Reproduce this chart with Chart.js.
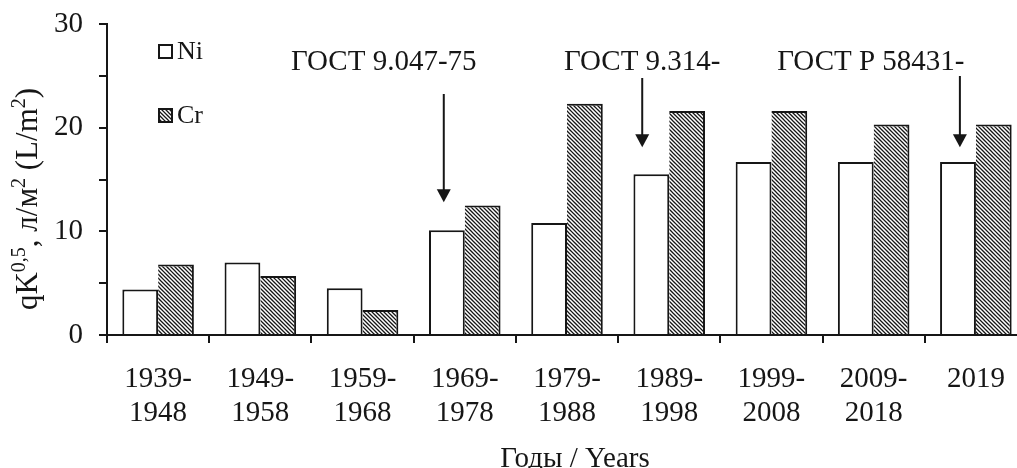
<!DOCTYPE html>
<html>
<head>
<meta charset="utf-8">
<script src="https://cdn.jsdelivr.net/npm/chart.js@4"></script>
<style>
  html, body { margin: 0; padding: 0; overflow: hidden; background: #fff; }
  #wrap { position: relative; width: 1030px; height: 468px; }
</style>
</head>
<body>
<div id="wrap"><canvas id="chart"></canvas></div>
<script>
// Periods (two-line labels) and the values for each metal
const categories = [
  ['1939-', '1948'], ['1949-', '1958'], ['1959-', '1968'],
  ['1969-', '1978'], ['1979-', '1988'], ['1989-', '1998'],
  ['1999-', '2008'], ['2009-', '2018'], ['2019']
];
const niValues = [4.4, 7.0, 4.5, 10.1, 10.8, 15.5, 16.7, 16.7, 16.7];
const crValues = [6.8, 5.7, 2.4, 12.5, 22.3, 21.6, 21.6, 20.3, 20.3];
const seriesNames = ['Ni', 'Cr'];
const yTickLabels = [0, 10, 20, 30];

// Standards introduced, and the period each one points at
const standards = ['ГОСТ 9.047-75', 'ГОСТ 9.314-', 'ГОСТ Р 58431-'];
const standardPeriods = [3, 5, 8];

const INK = '#161616';
const SERIF = '"Liberation Serif", "Times New Roman", serif';

// Diagonal hatching used for the Cr bars
function makeHatch() {
  const s = 8;
  const c = document.createElement('canvas');
  c.width = s; c.height = s;
  const g = c.getContext('2d');
  g.fillStyle = '#fff';
  g.fillRect(0, 0, s, s);
  g.strokeStyle = INK;
  g.lineWidth = 1.25;
  for (let k = -2; k <= 2; k++) {
    g.beginPath();
    g.moveTo(-1, k * 4 - 1);
    g.lineTo(s + 1, k * 4 + s + 1);
    g.stroke();
  }
  return g.createPattern(c, 'repeat');
}
const hatch = makeHatch();

// Text pieces with superscripts
function drawRich(ctx, parts, cx, baseY, size) {
  const supSize = Math.round(size * 0.64);
  let total = 0;
  parts.forEach(p => {
    ctx.font = (p.sup ? supSize : size) + 'px ' + SERIF;
    p.w = ctx.measureText(p.t).width;
    total += p.w;
  });
  let x = cx - total / 2;
  ctx.textAlign = 'left';
  ctx.textBaseline = 'alphabetic';
  parts.forEach(p => {
    ctx.font = (p.sup ? supSize : size) + 'px ' + SERIF;
    ctx.fillText(p.t, x, p.sup ? baseY - size * 0.4 : baseY);
    x += p.w;
  });
}

function arrowDown(ctx, x, yTop, yTip) {
  const headH = 13, headW = 7;
  ctx.strokeStyle = INK;
  ctx.fillStyle = INK;
  ctx.lineWidth = 2;
  ctx.beginPath();
  ctx.moveTo(x, yTop);
  ctx.lineTo(x, yTip - headH + 1);
  ctx.stroke();
  ctx.beginPath();
  ctx.moveTo(x - headW, yTip - headH);
  ctx.lineTo(x + headW, yTip - headH);
  ctx.lineTo(x, yTip);
  ctx.closePath();
  ctx.fill();
}

// Annotation layout: label centre offset and arrow offset from the period centre (px),
// arrow top (px) and tip (axis value)
const annotLayout = [
  { labelDx: -81, arrowDx: -21, arrowTop: 94, tipValue: 12.8 },
  { labelDx: -27, arrowDx: -27, arrowTop: 78, tipValue: 18.1 },
  { labelDx: -105, arrowDx: -16, arrowTop: 76, tipValue: 18.1 }
];

const decorations = {
  id: 'decorations',
  afterDraw(chart) {
    const ctx = chart.ctx;
    const xs = chart.scales.x, ys = chart.scales.y;
    ctx.save();
    ctx.fillStyle = INK;

    // y-axis title
    ctx.save();
    ctx.translate(37, 199);
    ctx.rotate(-Math.PI / 2);
    drawRich(ctx, [
      { t: 'qK' }, { t: '0,5', sup: true }, { t: ', л/м' }, { t: '2', sup: true },
      { t: ' (L/m' }, { t: '2', sup: true }, { t: ')' }
    ], 0, 0, 31);
    ctx.restore();

    // x-axis title
    ctx.font = '29px ' + SERIF;
    ctx.textAlign = 'center';
    ctx.textBaseline = 'alphabetic';
    ctx.fillText('Годы / Years', 575, 467);

    // legend
    const ds = chart.data.datasets;
    const legendRows = [51.5, 115.5];
    ds.forEach((d, i) => {
      const cy = legendRows[i];
      ctx.fillStyle = d.backgroundColor;
      ctx.fillRect(158, cy - 7.5, 15, 15);
      ctx.strokeStyle = INK;
      ctx.lineWidth = 2;
      ctx.strokeRect(159, cy - 6.5, 13, 13);
      ctx.fillStyle = INK;
      ctx.font = '26px ' + SERIF;
      ctx.textAlign = 'left';
      ctx.textBaseline = 'middle';
      ctx.fillText(d.label, 177, cy + 1);
    });

    // standards with arrows
    standards.forEach((txt, i) => {
      const L = annotLayout[i];
      const cx = xs.getPixelForValue(standardPeriods[i]);
      ctx.fillStyle = INK;
      ctx.font = '29px ' + SERIF;
      ctx.textAlign = 'center';
      ctx.textBaseline = 'alphabetic';
      ctx.fillText(txt, cx + L.labelDx, 70);
      arrowDown(ctx, cx + L.arrowDx, L.arrowTop, ys.getPixelForValue(L.tipValue));
    });
    ctx.restore();
  }
};

const tickFont = { family: SERIF, size: 29, lineHeight: 1.17 };

new Chart(document.getElementById('chart'), {
  type: 'bar',
  data: {
    labels: categories,
    datasets: [
      {
        label: seriesNames[0], data: niValues,
        backgroundColor: '#ffffff', borderColor: INK, borderWidth: 2,
        categoryPercentage: 0.7, barPercentage: 1.0
      },
      {
        label: seriesNames[1], data: crValues,
        backgroundColor: hatch, borderColor: INK,
        borderWidth: { top: 2, right: 2, left: 0, bottom: 0 },
        categoryPercentage: 0.7, barPercentage: 1.0
      }
    ]
  },
  options: {
    responsive: true,
    maintainAspectRatio: false,
    animation: false,
    events: [],
    layout: { padding: { top: 24, right: 3, left: 0, bottom: 0 } },
    plugins: { legend: { display: false }, tooltip: { enabled: false } },
    scales: {
      x: {
        grid: { display: true, drawOnChartArea: false, drawTicks: true, tickLength: 8, color: INK, lineWidth: 2, offset: true },
        border: { display: true, color: INK, width: 2 },
        ticks: { color: INK, font: tickFont, padding: 19, maxRotation: 0, minRotation: 0, autoSkip: false },
        afterFit(s) { s.height = 468 - 335; s.paddingLeft = 0; s.paddingRight = 0; }
      },
      y: {
        min: 0, max: 30,
        grid: { display: true, drawOnChartArea: false, drawTicks: true, tickLength: 8, color: INK, lineWidth: 2 },
        border: { display: true, color: INK, width: 2 },
        ticks: {
          stepSize: 5, color: INK, font: tickFont, padding: 16,
          callback: v => (yTickLabels.includes(v) ? String(v) : '')
        },
        afterFit(s) { s.width = 107; s.paddingTop = 0; s.paddingBottom = 0; }
      }
    }
  },
  plugins: [decorations]
});
</script>
</body>
</html>
